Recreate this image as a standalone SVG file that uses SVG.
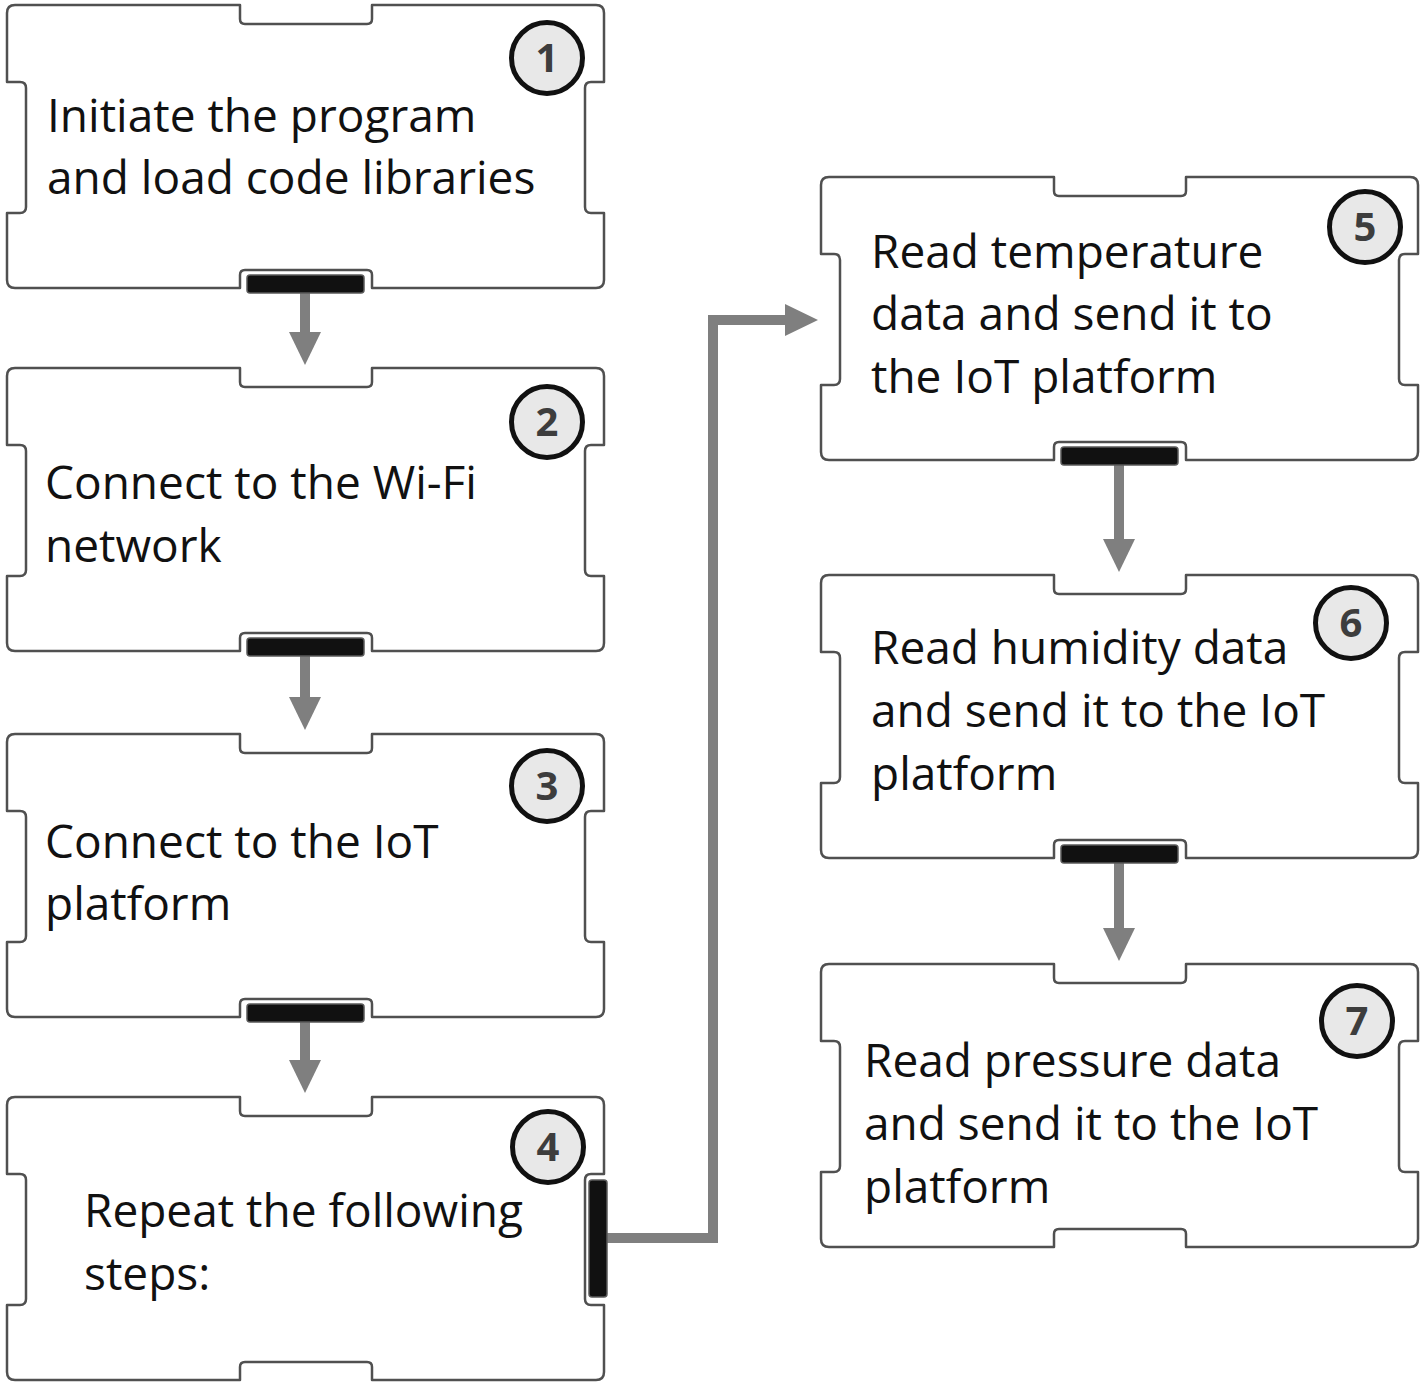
<svg xmlns="http://www.w3.org/2000/svg" xmlns:xlink="http://www.w3.org/1999/xlink" width="1425" height="1384" viewBox="0 0 1425 1384">
<style>
.box{fill:#ffffff;stroke:#505050;stroke-width:2.5;stroke-linejoin:round}
.bar{fill:#111111;stroke:#5a5a5a;stroke-width:1.5}
.lbl{font-family:"Open Sans","Noto Sans","Liberation Sans",sans-serif;font-size:46px;fill:#111111}
.num{fill:#e8e8e8;stroke:#111111;stroke-width:5}
.numt{font-family:"Open Sans","Noto Sans","Liberation Sans",sans-serif;font-size:40px;font-weight:bold;fill:#3d3d3d;text-anchor:middle}
.conn{fill:none;stroke:#7f7f7f;stroke-width:10}
</style>
<defs>
<path id="shape" d="M8,0 H233 V14 Q233,19 238,19 H360 Q365,19 365,14 V0 H589 Q597,0 597,8 V77 H584 Q578,77 578,83 V202 Q578,208 584,208 H597 V275 Q597,283 589,283 H365 V270 Q365,265 360,265 H238 Q233,265 233,270 V283 H8 Q0,283 0,275 V208 H13 Q19,208 19,202 V83 Q19,77 13,77 H0 V8 Q0,0 8,0 Z"/>
<marker id="ah" markerWidth="33" markerHeight="32" refX="3" refY="16" orient="auto" markerUnits="userSpaceOnUse">
<path d="M0,0 L33,16 L0,32 Z" fill="#7f7f7f"/>
</marker>
</defs>
<rect width="1425" height="1384" fill="#ffffff"/>
<g id="connectors">
<path class="conn" d="M305,290 V335" marker-end="url(#ah)"/>
<path class="conn" d="M305,653 V700" marker-end="url(#ah)"/>
<path class="conn" d="M305,1019 V1063" marker-end="url(#ah)"/>
<path class="conn" d="M1119,462 V542" marker-end="url(#ah)"/>
<path class="conn" d="M1119,860 V931" marker-end="url(#ah)"/>
<path class="conn" d="M605,1238 H713 V320 H788" marker-end="url(#ah)"/>
</g>
<g id="node1">
<use xlink:href="#shape" href="#shape" class="box" x="7" y="5"/>
<rect class="bar" x="247" y="275" width="117" height="18" rx="3"/>
<circle class="num" cx="547" cy="58" r="35.5"/>
<text class="numt" x="547" y="72">1</text>
<text class="lbl" x="47" y="132">Initiate the program</text>
<text class="lbl" x="47" y="194">and load code libraries</text>
</g>
<g id="node2">
<use xlink:href="#shape" href="#shape" class="box" x="7" y="368"/>
<rect class="bar" x="247" y="638" width="117" height="18" rx="3"/>
<circle class="num" cx="547" cy="422" r="35.5"/>
<text class="numt" x="547" y="436">2</text>
<text class="lbl" x="45" y="499">Connect to the Wi-Fi</text>
<text class="lbl" x="45" y="562">network</text>
</g>
<g id="node3">
<use xlink:href="#shape" href="#shape" class="box" x="7" y="734"/>
<rect class="bar" x="247" y="1004" width="117" height="18" rx="3"/>
<circle class="num" cx="547" cy="786" r="35.5"/>
<text class="numt" x="547" y="800">3</text>
<text class="lbl" x="45" y="858">Connect to the IoT</text>
<text class="lbl" x="45" y="920">platform</text>
</g>
<g id="node4">
<use xlink:href="#shape" href="#shape" class="box" x="7" y="1097"/>
<rect class="bar" x="589" y="1180" width="18" height="117" rx="3"/>
<circle class="num" cx="548" cy="1147" r="35.5"/>
<text class="numt" x="548" y="1161">4</text>
<text class="lbl" x="84" y="1227">Repeat the following</text>
<text class="lbl" x="84" y="1290">steps:</text>
</g>
<g id="node5">
<use xlink:href="#shape" href="#shape" class="box" x="821" y="177"/>
<rect class="bar" x="1061" y="447" width="117" height="18" rx="3"/>
<circle class="num" cx="1365" cy="227" r="35.5"/>
<text class="numt" x="1365" y="241">5</text>
<text class="lbl" x="871" y="268">Read temperature</text>
<text class="lbl" x="871" y="330">data and send it to</text>
<text class="lbl" x="871" y="393">the IoT platform</text>
</g>
<g id="node6">
<use xlink:href="#shape" href="#shape" class="box" x="821" y="575"/>
<rect class="bar" x="1061" y="845" width="117" height="18" rx="3"/>
<circle class="num" cx="1351" cy="623" r="35.5"/>
<text class="numt" x="1351" y="637">6</text>
<text class="lbl" x="871" y="664">Read humidity data</text>
<text class="lbl" x="871" y="727">and send it to the IoT</text>
<text class="lbl" x="871" y="790">platform</text>
</g>
<g id="node7">
<use xlink:href="#shape" href="#shape" class="box" x="821" y="964"/>
<circle class="num" cx="1357" cy="1021" r="35.5"/>
<text class="numt" x="1357" y="1035">7</text>
<text class="lbl" x="864" y="1077">Read pressure data</text>
<text class="lbl" x="864" y="1140">and send it to the IoT</text>
<text class="lbl" x="864" y="1203">platform</text>
</g>
</svg>
